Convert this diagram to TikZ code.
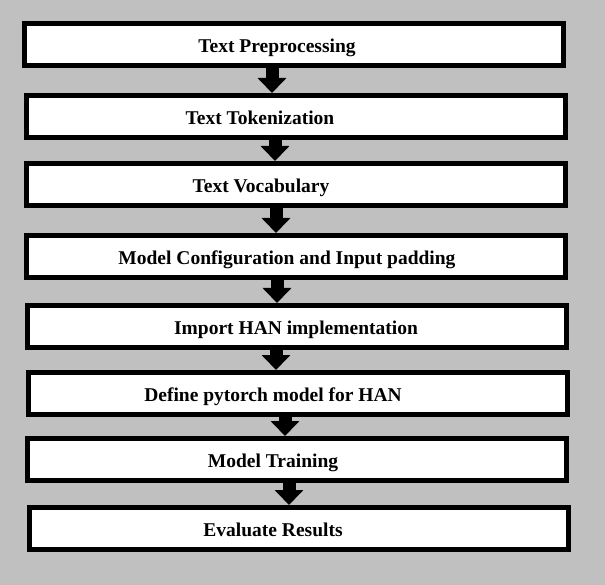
\documentclass[tikz,border=0pt]{standalone}
\usepackage{fontspec}
\setmainfont{Liberation Serif}
\usetikzlibrary{arrows.meta}
\definecolor{bggray}{HTML}{C0C0C0}
\tikzset{
  stepbox/.style={draw=black, fill=white, line width=5pt, rectangle, inner sep=0pt,
    minimum width=539pt, minimum height=42pt},
  steptext/.style={font=\bfseries\fontsize{19.5pt}{22pt}\selectfont, inner sep=0pt, anchor=base},
  blockarrow/.style={line width=13pt, -{Triangle[width=28pt,length=15pt]}}
}
\begin{document}
\begin{tikzpicture}[x=1pt,y=-1pt]
\fill[bggray] (0,0) rectangle (605,585);
\useasboundingbox (0,0) rectangle (605,585);
\node[stepbox] (b1) at (294,44.5) {};
\node[stepbox] (b2) at (296,116.5) {};
\node[stepbox] (b3) at (296,184.5) {};
\node[stepbox] (b4) at (296,256.5) {};
\node[stepbox] (b5) at (297,326.5) {};
\node[stepbox] (b6) at (298,393.5) {};
\node[stepbox] (b7) at (297,459.5) {};
\node[stepbox] (b8) at (299,528.5) {};
\node[steptext] (t1) at (277,52.5) {Text Preprocessing};
\node[steptext] (t2) at (260,124.5) {Text Tokenization};
\node[steptext] (t3) at (261,192.5) {Text Vocabulary};
\node[steptext] (t4) at (287,264.5) {Model Configuration and Input padding};
\node[steptext] (t5) at (296,334.5) {Import HAN implementation};
\node[steptext] (t6) at (273,401.5) {Define pytorch model for HAN};
\node[steptext] (t7) at (273,467.5) {Model Training};
\node[steptext] (t8) at (273,536.5) {Evaluate Results};
\coordinate (x1) at (272,0);
\coordinate (x2) at (275,0);
\coordinate (x3) at (276,0);
\coordinate (x4) at (277,0);
\coordinate (x5) at (276,0);
\coordinate (x6) at (285,0);
\coordinate (x7) at (289,0);
\draw[blockarrow] (b1.south -| x1) -- (b2.north -| x1);
\draw[blockarrow] (b2.south -| x2) -- (b3.north -| x2);
\draw[blockarrow] (b3.south -| x3) -- (b4.north -| x3);
\draw[blockarrow] (b4.south -| x4) -- (b5.north -| x4);
\draw[blockarrow] (b5.south -| x5) -- (b6.north -| x5);
\draw[blockarrow] (b6.south -| x6) -- (b7.north -| x6);
\draw[blockarrow] (b7.south -| x7) -- (b8.north -| x7);
\end{tikzpicture}
\end{document}
